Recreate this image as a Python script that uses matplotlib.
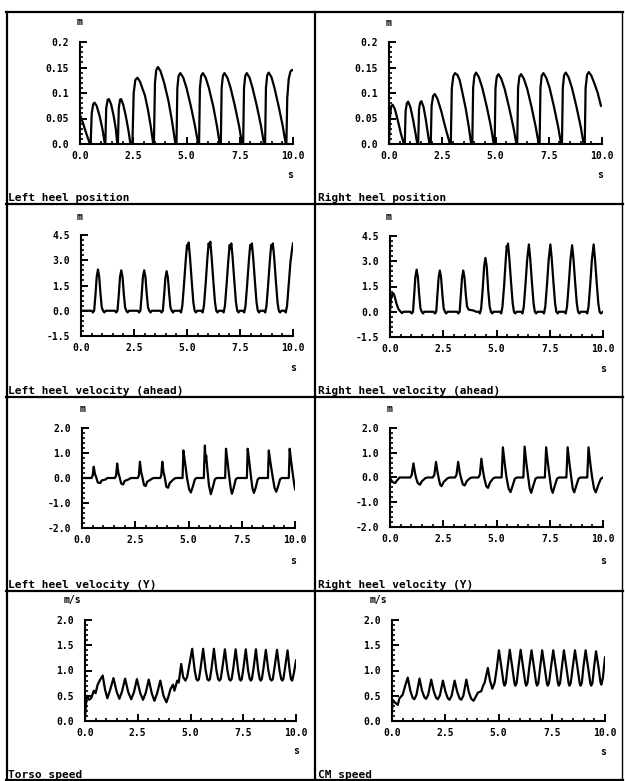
import matplotlib
matplotlib.use("Agg")
import matplotlib.pyplot as plt
from matplotlib.lines import Line2D
from matplotlib.ticker import MultipleLocator

plt.rcParams['font.family'] = ['DejaVu Sans Mono']
plt.rcParams['font.weight'] = 'bold'

W, H = 625, 781

# ---------------- data ----------------
titles = ["Left heel position", "Right heel position",
          "Left heel velocity (ahead)", "Right heel velocity (ahead)",
          "Left heel velocity (Y)", "Right heel velocity (Y)",
          "Torso speed", "CM speed"]
y_units = ["m", "m", "m", "m", "m", "m", "m/s", "m/s"]
x_unit = "s"

x_ticks = [0.0, 2.5, 5.0, 7.5, 10.0]
x_ticklabels = ["0.0", "2.5", "5.0", "7.5", "10.0"]

pos_ticks = [0.0, 0.05, 0.1, 0.15, 0.2]
pos_ticklabels = ["0.0", "0.05", "0.1", "0.15", "0.2"]
vel_ticks = [-1.5, 0.0, 1.5, 3.0, 4.5]
vel_ticklabels = ["-1.5", "0.0", "1.5", "3.0", "4.5"]
vely_ticks = [-2.0, -1.0, 0.0, 1.0, 2.0]
vely_ticklabels = ["-2.0", "-1.0", "0.0", "1.0", "2.0"]
spd_ticks = [0.0, 0.5, 1.0, 1.5, 2.0]
spd_ticklabels = ["0.0", "0.5", "1.0", "1.5", "2.0"]

left_heel_pos = [
    (0.0, 0.057), (0.15, 0.04), (0.3, 0.02), (0.47, 0.0),
    (0.50, 0.0), (0.55, 0.06), (0.62, 0.078), (0.68, 0.081), (0.78, 0.075), (0.92, 0.055), (1.05, 0.03), (1.17, 0.0),
    (1.19, 0.0), (1.23, 0.07), (1.30, 0.087), (1.36, 0.088), (1.46, 0.078), (1.58, 0.055), (1.68, 0.03), (1.75, 0.0),
    (1.78, 0.0), (1.82, 0.07), (1.88, 0.087), (1.93, 0.088), (2.03, 0.077), (2.15, 0.055), (2.28, 0.025), (2.37, 0.0),
    (2.46, 0.0), (2.52, 0.1), (2.60, 0.126), (2.70, 0.13), (2.82, 0.122), (2.92, 0.11), (3.05, 0.095), (3.2, 0.065), (3.32, 0.035), (3.44, 0.0),
    (3.47, 0.0), (3.52, 0.12), (3.58, 0.145), (3.66, 0.151), (3.78, 0.143), (3.95, 0.12), (4.15, 0.085), (4.32, 0.045), (4.48, 0.0),
    (4.53, 0.0), (4.57, 0.11), (4.63, 0.134), (4.71, 0.139), (4.85, 0.13), (5.0, 0.11), (5.2, 0.075), (5.4, 0.035), (5.55, 0.0),
    (5.59, 0.0), (5.63, 0.11), (5.69, 0.134), (5.77, 0.139), (5.9, 0.13), (6.05, 0.11), (6.25, 0.075), (6.43, 0.035), (6.56, 0.0),
    (6.61, 0.0), (6.65, 0.11), (6.71, 0.134), (6.78, 0.139), (6.92, 0.13), (7.07, 0.11), (7.27, 0.075), (7.47, 0.035), (7.61, 0.0),
    (7.66, 0.0), (7.70, 0.11), (7.76, 0.134), (7.83, 0.139), (7.96, 0.13), (8.1, 0.11), (8.3, 0.075), (8.5, 0.035), (8.64, 0.0),
    (8.69, 0.0), (8.73, 0.11), (8.79, 0.135), (8.86, 0.14), (8.99, 0.131), (9.13, 0.11), (9.32, 0.075), (9.52, 0.035), (9.66, 0.0),
    (9.69, 0.0), (9.73, 0.09), (9.8, 0.128), (9.88, 0.142), (9.95, 0.145), (10.0, 0.145),
]

right_heel_pos = [
    (0.0, 0.0), (0.04, 0.05), (0.1, 0.074), (0.17, 0.077), (0.28, 0.068), (0.42, 0.045), (0.56, 0.02), (0.7, 0.0),
    (0.74, 0.0), (0.78, 0.065), (0.84, 0.08), (0.9, 0.083), (1.0, 0.073), (1.12, 0.05), (1.24, 0.022), (1.33, 0.0),
    (1.37, 0.0), (1.41, 0.068), (1.46, 0.081), (1.52, 0.084), (1.62, 0.073), (1.72, 0.05), (1.82, 0.022), (1.9, 0.0),
    (1.96, 0.0), (2.0, 0.075), (2.07, 0.094), (2.15, 0.098), (2.28, 0.088), (2.45, 0.065), (2.63, 0.035), (2.86, 0.0),
    (2.9, 0.0), (2.95, 0.11), (3.02, 0.133), (3.1, 0.139), (3.22, 0.135), (3.32, 0.125), (3.45, 0.1), (3.6, 0.07), (3.74, 0.035), (3.86, 0.0),
    (3.91, 0.0), (3.95, 0.11), (4.01, 0.134), (4.09, 0.14), (4.22, 0.131), (4.38, 0.11), (4.58, 0.075), (4.78, 0.035), (4.92, 0.0),
    (4.96, 0.0), (5.0, 0.11), (5.06, 0.132), (5.14, 0.137), (5.27, 0.128), (5.43, 0.108), (5.63, 0.073), (5.84, 0.033), (5.98, 0.0),
    (6.02, 0.0), (6.06, 0.11), (6.12, 0.132), (6.2, 0.137), (6.33, 0.128), (6.49, 0.108), (6.69, 0.073), (6.89, 0.033), (7.03, 0.0),
    (7.07, 0.0), (7.11, 0.11), (7.17, 0.134), (7.25, 0.139), (7.38, 0.13), (7.54, 0.11), (7.74, 0.074), (7.94, 0.034), (8.08, 0.0),
    (8.12, 0.0), (8.16, 0.11), (8.22, 0.135), (8.3, 0.14), (8.43, 0.131), (8.59, 0.11), (8.79, 0.075), (9.0, 0.034), (9.14, 0.0),
    (9.19, 0.0), (9.23, 0.11), (9.3, 0.136), (9.38, 0.141), (9.5, 0.134), (9.65, 0.118), (9.8, 0.1), (9.95, 0.075),
]

left_heel_vel = [
    (0.0, 0.0), (0.5, 0.0), (0.56, -0.1), (0.62, 0.0), (0.68, 0.9), (0.74, 2.0), (0.8, 2.45), (0.86, 2.0), (0.92, 1.0), (0.98, 0.2), (1.04, 0.0), (1.1, -0.1), (1.16, 0.0),
    (1.6, 0.0), (1.66, -0.1), (1.72, 0.0), (1.78, 0.9), (1.84, 2.0), (1.9, 2.4), (1.96, 2.0), (2.02, 1.0), (2.08, 0.2), (2.14, 0.0), (2.2, -0.1), (2.26, 0.0),
    (2.68, 0.0), (2.74, -0.1), (2.8, 0.0), (2.86, 0.9), (2.92, 2.0), (2.98, 2.4), (3.04, 2.0), (3.1, 1.0), (3.16, 0.2), (3.22, 0.0), (3.28, -0.1), (3.34, 0.0),
    (3.74, 0.0), (3.8, -0.1), (3.86, 0.0), (3.92, 0.9), (3.98, 1.95), (4.04, 2.35), (4.1, 1.95), (4.16, 1.0), (4.22, 0.2), (4.28, 0.0), (4.34, -0.1), (4.4, 0.0),
    (4.66, 0.0), (4.72, -0.1), (4.78, 0.3), (4.86, 1.6), (4.94, 3.0), (5.0, 3.9), (5.04, 3.7), (5.08, 4.05), (5.14, 3.2), (5.22, 1.8), (5.3, 0.5), (5.36, 0.0), (5.42, -0.1), (5.48, 0.0),
    (5.68, 0.0), (5.74, -0.1), (5.8, 0.3), (5.88, 1.6), (5.96, 3.1), (6.02, 4.0), (6.06, 3.8), (6.1, 4.1), (6.16, 3.2), (6.24, 1.8), (6.32, 0.5), (6.38, 0.0), (6.44, -0.1), (6.5, 0.0),
    (6.67, 0.0), (6.73, -0.1), (6.79, 0.3), (6.87, 1.6), (6.95, 3.0), (7.01, 3.9), (7.05, 3.7), (7.09, 4.0), (7.15, 3.2), (7.23, 1.8), (7.31, 0.5), (7.37, 0.0), (7.43, -0.1), (7.49, 0.0),
    (7.64, 0.0), (7.7, -0.1), (7.76, 0.3), (7.84, 1.6), (7.92, 3.0), (7.98, 3.9), (8.02, 3.7), (8.06, 4.0), (8.12, 3.2), (8.2, 1.8), (8.28, 0.5), (8.34, 0.0), (8.4, -0.1), (8.46, 0.0),
    (8.63, 0.0), (8.69, -0.1), (8.75, 0.3), (8.83, 1.6), (8.91, 3.0), (8.97, 3.9), (9.01, 3.7), (9.05, 4.0), (9.11, 3.2), (9.19, 1.8), (9.27, 0.5), (9.33, 0.0), (9.39, -0.1), (9.45, 0.0),
    (9.6, 0.0), (9.66, -0.1), (9.72, 0.3), (9.8, 1.6), (9.88, 2.9), (9.95, 3.6), (10.0, 4.0),
]

right_heel_vel = [
    (0.0, 0.0), (0.04, 0.7), (0.1, 1.05), (0.16, 1.1), (0.22, 0.9), (0.3, 0.5), (0.4, 0.15), (0.5, 0.0), (0.56, -0.08), (0.62, 0.0),
    (0.96, 0.0), (1.02, -0.1), (1.08, 0.0), (1.13, 0.9), (1.19, 2.05), (1.25, 2.5), (1.31, 2.05), (1.37, 1.0), (1.43, 0.2), (1.49, 0.0), (1.55, -0.1), (1.61, 0.0),
    (2.05, 0.0), (2.11, -0.1), (2.17, 0.0), (2.22, 0.9), (2.28, 2.0), (2.34, 2.45), (2.4, 2.0), (2.46, 1.0), (2.52, 0.2), (2.58, 0.0), (2.64, -0.1), (2.7, 0.0),
    (3.15, 0.0), (3.21, -0.1), (3.27, 0.0), (3.32, 0.9), (3.38, 2.0), (3.44, 2.45), (3.5, 2.0), (3.56, 1.0), (3.62, 0.3), (3.7, 0.12), (3.9, 0.08), (4.05, 0.0),
    (4.16, 0.0), (4.22, -0.1), (4.28, 0.2), (4.35, 1.3), (4.42, 2.7), (4.48, 3.2), (4.54, 2.7), (4.61, 1.3), (4.68, 0.3), (4.74, 0.0), (4.8, -0.1), (4.86, 0.0),
    (5.16, 0.0), (5.22, -0.1), (5.28, 0.3), (5.36, 1.6), (5.43, 3.0), (5.48, 3.9), (5.51, 3.7), (5.54, 4.05), (5.6, 3.2), (5.68, 1.8), (5.76, 0.5), (5.82, 0.0), (5.88, -0.1), (5.94, 0.0),
    (6.16, 0.0), (6.22, -0.1), (6.28, 0.3), (6.36, 1.6), (6.44, 3.1), (6.52, 4.0), (6.58, 3.2), (6.66, 1.8), (6.74, 0.5), (6.8, 0.0), (6.86, -0.1), (6.92, 0.0),
    (7.17, 0.0), (7.23, -0.1), (7.29, 0.3), (7.37, 1.6), (7.45, 3.1), (7.53, 4.0), (7.59, 3.2), (7.67, 1.8), (7.75, 0.5), (7.81, 0.0), (7.87, -0.1), (7.93, 0.0),
    (8.19, 0.0), (8.25, -0.1), (8.31, 0.3), (8.39, 1.6), (8.47, 3.05), (8.55, 3.95), (8.61, 3.2), (8.69, 1.8), (8.77, 0.5), (8.83, 0.0), (8.89, -0.1), (8.95, 0.0),
    (9.2, 0.0), (9.26, -0.1), (9.32, 0.3), (9.4, 1.6), (9.48, 3.1), (9.56, 4.0), (9.62, 3.2), (9.7, 1.8), (9.78, 0.5), (9.84, 0.0), (9.9, -0.1), (10.0, 0.0),
]

left_heel_vely = [
    (0.0, 0.0), (0.45, 0.0), (0.5, 0.1), (0.55, 0.45), (0.61, 0.15), (0.66, 0.05), (0.74, -0.18), (0.86, -0.2), (0.92, -0.1), (1.1, -0.06), (1.2, 0.0),
    (1.55, 0.0), (1.6, 0.1), (1.65, 0.58), (1.71, 0.2), (1.76, 0.05), (1.84, -0.22), (1.93, -0.26), (2.0, -0.12), (2.2, -0.05), (2.3, 0.0),
    (2.62, 0.0), (2.67, 0.1), (2.72, 0.65), (2.78, 0.22), (2.83, 0.05), (2.91, -0.28), (2.99, -0.32), (3.06, -0.15), (3.25, -0.05), (3.35, 0.0),
    (3.67, 0.0), (3.72, 0.1), (3.77, 0.65), (3.83, 0.22), (3.88, 0.05), (3.96, -0.35), (4.04, -0.39), (4.12, -0.2), (4.3, -0.05), (4.4, 0.0),
    (4.72, 0.0), (4.74, 0.5), (4.76, 1.1), (4.84, 0.6), (4.93, 0.0), (5.03, -0.45), (5.11, -0.58), (5.2, -0.35), (5.3, -0.05), (5.38, 0.0),
    (5.72, 0.0), (5.74, 0.6), (5.77, 1.3), (5.8, 0.65), (5.83, 0.9), (5.88, 0.4), (5.96, -0.3), (6.05, -0.65), (6.13, -0.4), (6.24, -0.05), (6.32, 0.0),
    (6.72, 0.0), (6.74, 0.6), (6.76, 1.17), (6.84, 0.6), (6.92, 0.0), (6.98, -0.4), (7.04, -0.63), (7.12, -0.4), (7.22, -0.05), (7.3, 0.0),
    (7.74, 0.0), (7.76, 0.6), (7.78, 1.17), (7.86, 0.6), (7.94, 0.0), (8.0, -0.4), (8.07, -0.6), (8.15, -0.4), (8.25, -0.05), (8.33, 0.0),
    (8.73, 0.0), (8.75, 0.6), (8.77, 1.1), (8.85, 0.6), (8.96, 0.0), (9.04, -0.4), (9.12, -0.55), (9.2, -0.35), (9.3, -0.05), (9.38, 0.0),
    (9.71, 0.0), (9.73, 0.6), (9.75, 1.17), (9.83, 0.6), (9.92, 0.0), (10.0, -0.45),
]

right_heel_vely = [
    (0.0, 0.0), (0.05, -0.1), (0.15, -0.2), (0.24, -0.22), (0.35, -0.1), (0.45, 0.0),
    (0.95, 0.0), (1.02, 0.1), (1.1, 0.57), (1.17, 0.2), (1.22, 0.0), (1.3, -0.22), (1.41, -0.29), (1.5, -0.15), (1.65, -0.03), (1.75, 0.0),
    (2.0, 0.0), (2.08, 0.1), (2.16, 0.63), (2.23, 0.22), (2.28, 0.0), (2.35, -0.28), (2.42, -0.35), (2.52, -0.18), (2.7, -0.03), (2.8, 0.0),
    (3.05, 0.0), (3.12, 0.1), (3.2, 0.63), (3.27, 0.22), (3.33, 0.0), (3.42, -0.28), (3.51, -0.32), (3.6, -0.15), (3.75, -0.03), (3.85, 0.0),
    (4.15, 0.0), (4.22, 0.12), (4.29, 0.76), (4.36, 0.3), (4.42, 0.0), (4.52, -0.35), (4.6, -0.42), (4.7, -0.2), (4.85, -0.03), (4.95, 0.0),
    (5.24, 0.0), (5.27, 0.6), (5.3, 1.22), (5.38, 0.6), (5.47, 0.0), (5.57, -0.45), (5.66, -0.59), (5.75, -0.35), (5.86, -0.05), (5.95, 0.0),
    (6.26, 0.0), (6.29, 0.6), (6.32, 1.25), (6.4, 0.6), (6.49, 0.0), (6.56, -0.45), (6.63, -0.62), (6.72, -0.35), (6.83, -0.05), (6.92, 0.0),
    (7.27, 0.0), (7.3, 0.6), (7.33, 1.22), (7.41, 0.6), (7.5, 0.0), (7.57, -0.45), (7.64, -0.62), (7.73, -0.35), (7.84, -0.05), (7.93, 0.0),
    (8.28, 0.0), (8.31, 0.6), (8.34, 1.22), (8.42, 0.6), (8.51, 0.0), (8.58, -0.45), (8.65, -0.6), (8.74, -0.35), (8.85, -0.05), (8.94, 0.0),
    (9.26, 0.0), (9.29, 0.6), (9.32, 1.22), (9.4, 0.6), (9.49, 0.0), (9.58, -0.45), (9.66, -0.6), (9.78, -0.3), (9.9, -0.05), (10.0, 0.0),
]

torso_speed = [
    (0.0, 0.05), (0.04, 0.3), (0.08, 0.5), (0.2, 0.42), (0.3, 0.46), (0.42, 0.6), (0.5, 0.55), (0.6, 0.72), (0.72, 0.82), (0.84, 0.9),
    (0.95, 0.62), (1.06, 0.45), (1.18, 0.6), (1.35, 0.85),
    (1.5, 0.58), (1.63, 0.44), (1.75, 0.58), (1.9, 0.84),
    (2.05, 0.57), (2.19, 0.43), (2.32, 0.57), (2.46, 0.83),
    (2.62, 0.55), (2.75, 0.42), (2.88, 0.56), (3.02, 0.82),
    (3.17, 0.54), (3.29, 0.4), (3.42, 0.55), (3.57, 0.8),
    (3.72, 0.5), (3.86, 0.37), (3.95, 0.48), (4.05, 0.63), (4.17, 0.72), (4.24, 0.6), (4.37, 0.8), (4.44, 0.76),
    (4.56, 1.13), (4.65, 0.87), (4.76, 0.8), (4.84, 0.87), (4.96, 1.15),
    (5.08, 1.43), (5.2, 1.0), (5.28, 0.83), (5.34, 0.8), (5.4, 0.83), (5.48, 1.05),
    (5.6, 1.43), (5.72, 1.0), (5.8, 0.83), (5.86, 0.8), (5.92, 0.83), (6.0, 1.05),
    (6.11, 1.43), (6.23, 1.0), (6.31, 0.83), (6.37, 0.8), (6.43, 0.83), (6.51, 1.05),
    (6.63, 1.42), (6.75, 1.0), (6.83, 0.83), (6.89, 0.8), (6.95, 0.83), (7.03, 1.05),
    (7.14, 1.42), (7.26, 1.0), (7.33, 0.83), (7.38, 0.8), (7.43, 0.83), (7.51, 1.05),
    (7.62, 1.42), (7.73, 1.0), (7.81, 0.83), (7.86, 0.8), (7.91, 0.83), (7.99, 1.05),
    (8.1, 1.42), (8.21, 1.0), (8.28, 0.83), (8.33, 0.8), (8.38, 0.83), (8.46, 1.05),
    (8.57, 1.41), (8.69, 1.0), (8.78, 0.83), (8.84, 0.8), (8.9, 0.83), (8.98, 1.05),
    (9.1, 1.41), (9.22, 1.0), (9.3, 0.83), (9.35, 0.8), (9.4, 0.83), (9.48, 1.05),
    (9.6, 1.4), (9.7, 1.0), (9.76, 0.83), (9.82, 0.8), (9.9, 0.95), (10.0, 1.2),
]

cm_speed = [
    (0.0, 0.15), (0.02, 0.42), (0.1, 0.38), (0.27, 0.32), (0.35, 0.45), (0.5, 0.52), (0.62, 0.7), (0.74, 0.86),
    (0.86, 0.6), (0.97, 0.46), (1.05, 0.43), (1.15, 0.52), (1.29, 0.84),
    (1.41, 0.6), (1.52, 0.47), (1.6, 0.44), (1.7, 0.52), (1.84, 0.82),
    (1.96, 0.59), (2.07, 0.46), (2.15, 0.43), (2.25, 0.51), (2.39, 0.8),
    (2.51, 0.58), (2.62, 0.45), (2.7, 0.42), (2.8, 0.5), (2.94, 0.8),
    (3.06, 0.58), (3.17, 0.45), (3.25, 0.42), (3.35, 0.5), (3.49, 0.82),
    (3.61, 0.57), (3.72, 0.44), (3.83, 0.4), (4.03, 0.56), (4.19, 0.59), (4.27, 0.69), (4.35, 0.76),
    (4.5, 1.05), (4.6, 0.8), (4.71, 0.64), (4.82, 0.76), (4.92, 1.05),
    (5.02, 1.4), (5.14, 1.05), (5.24, 0.75), (5.28, 0.7), (5.34, 0.75), (5.43, 1.08),
    (5.53, 1.41), (5.65, 1.05), (5.75, 0.75), (5.79, 0.7), (5.85, 0.75), (5.94, 1.08),
    (6.04, 1.41), (6.16, 1.05), (6.26, 0.75), (6.3, 0.7), (6.36, 0.75), (6.45, 1.08),
    (6.55, 1.4), (6.67, 1.05), (6.77, 0.75), (6.81, 0.7), (6.87, 0.75), (6.96, 1.08),
    (7.05, 1.4), (7.17, 1.05), (7.27, 0.75), (7.31, 0.7), (7.37, 0.75), (7.47, 1.08),
    (7.57, 1.4), (7.69, 1.05), (7.79, 0.75), (7.83, 0.7), (7.89, 0.75), (7.98, 1.08),
    (8.07, 1.4), (8.19, 1.05), (8.29, 0.75), (8.33, 0.7), (8.39, 0.75), (8.49, 1.08),
    (8.59, 1.4), (8.71, 1.05), (8.81, 0.75), (8.85, 0.7), (8.91, 0.75), (8.99, 1.08),
    (9.09, 1.4), (9.21, 1.05), (9.31, 0.75), (9.35, 0.7), (9.41, 0.75), (9.49, 1.08),
    (9.58, 1.38), (9.7, 1.05), (9.79, 0.76), (9.83, 0.72), (9.9, 0.85), (10.0, 1.26),
]

series = [left_heel_pos, right_heel_pos, left_heel_vel, right_heel_vel,
          left_heel_vely, right_heel_vely, torso_speed, cm_speed]
row_ticks = [(pos_ticks, pos_ticklabels, 0.01),
             (vel_ticks, vel_ticklabels, 0.3),
             (vely_ticks, vely_ticklabels, 0.2),
             (spd_ticks, spd_ticklabels, 0.1)]

# ---------------- layout (pixels) ----------------
axes_px = [  # L, R, T, B
    (80, 293, 42, 144), (389, 602, 42, 144),
    (81, 293, 235, 336), (390, 603, 236, 337),
    (82, 295, 428, 528), (390, 603, 428, 527),
    (85, 296, 620, 721), (392, 605, 620, 721),
]
title_y = [198, 391, 585, 775]
title_x = [8, 318]
yunit_pos = [(80, 22), (389, 23), (80, 217), (389, 217),
             (83, 409), (390, 409), (72, 600), (378, 600)]
xunit_pos = [(290, 175), (600, 175), (293, 368), (603, 369),
             (293, 561), (603, 561), (296, 751), (603, 752)]

fig = plt.figure(figsize=(W / 100, H / 100), dpi=100)
fig.patch.set_facecolor("white")


def fx(x):
    return x / W


def fy(y):
    return 1 - y / H


for i, data in enumerate(series):
    L, R, T, B = axes_px[i]
    ax = fig.add_axes([fx(L), fy(B), (R - L) / W, (B - T) / H])
    ax.set_facecolor("none")
    t = [p[0] for p in data]
    v = [p[1] for p in data]
    ax.plot(t, v, color="black", lw=1.6, solid_joinstyle="round")
    yt, ytl, ymin = row_ticks[i // 2]
    ax.set_xlim(0, 10)
    ax.set_ylim(yt[0], yt[-1])
    ax.set_xticks(x_ticks)
    ax.set_xticklabels(x_ticklabels)
    ax.set_yticks(yt)
    ax.set_yticklabels(ytl)
    ax.xaxis.set_minor_locator(MultipleLocator(0.5))
    ax.yaxis.set_minor_locator(MultipleLocator(ymin))
    for s in ("top", "right"):
        ax.spines[s].set_visible(False)
    for s in ("left", "bottom"):
        ax.spines[s].set_linewidth(1.5)
    ax.tick_params(which="major", direction="in", length=5, width=1.4,
                   labelsize=7, pad=8)
    ax.tick_params(which="minor", direction="in", length=2.5, width=1.2)
    ax.tick_params(axis="x", which="major", pad=5)
    for lab in ax.get_xticklabels() + ax.get_yticklabels():
        lab.set_fontweight("bold")

    row = i // 2
    col = i % 2
    fig.text(fx(title_x[col]), fy(title_y[row]), titles[i], ha="left",
             va="center", fontsize=8, fontweight="bold")
    ux, uy = yunit_pos[i]
    fig.text(fx(ux), fy(uy), y_units[i], ha="center", va="center",
             fontsize=7, fontweight="bold")
    sx, sy = xunit_pos[i]
    fig.text(fx(sx), fy(sy), x_unit, ha="center", va="center",
             fontsize=7, fontweight="bold")


# cell borders
def hline(y, x0, x1, lw=1.6):
    fig.add_artist(Line2D([fx(x0), fx(x1)], [fy(y), fy(y)], color="black",
                          lw=lw, transform=fig.transFigure))


def vline(x, y0, y1, lw=1.6):
    fig.add_artist(Line2D([fx(x), fx(x)], [fy(y0), fy(y1)], color="black",
                          lw=lw, transform=fig.transFigure))


for y in (12, 204, 397, 591, 780):
    hline(y, 6, 623)
vline(7, 12, 780)
vline(315, 12, 780)
vline(622, 12, 780, lw=1.0)

fig.savefig("out.png", dpi=100, facecolor="white")
